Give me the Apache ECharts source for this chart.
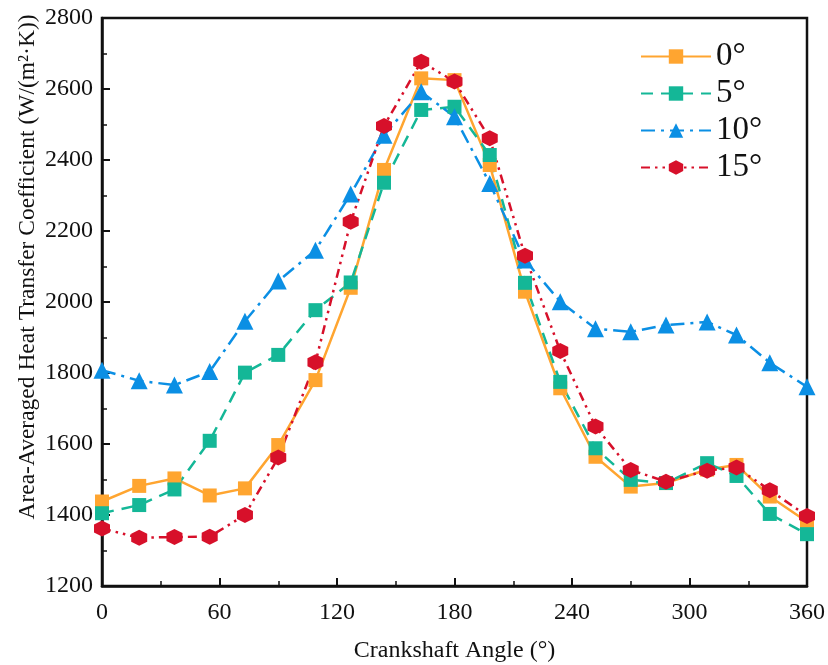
<!DOCTYPE html>
<html>
<head>
<meta charset="utf-8">
<script src="https://cdn.jsdelivr.net/npm/echarts@6/dist/echarts.min.js"></script>
<style>
  html, body { margin: 0; padding: 0; background: #fff; }
  #chart { width: 828px; height: 665px; }
</style>
</head>
<body>
<div id="chart"></div>
<script>
// Crank angle positions (degrees) of the sampled points
const angles = [0, 19, 37, 55, 73, 90, 109, 127, 144, 163, 180, 198, 216, 234, 252, 270, 288, 309, 324, 341, 360];

// Area-averaged heat transfer coefficient, W/(m²·K), for each tilt angle
const h0 = [1438, 1482, 1503, 1455, 1475, 1597, 1780, 2040, 2372, 2630, 2625, 2386, 2029, 1757, 1564, 1480, 1490, 1528, 1541, 1452, 1381];
const h5 = [1405, 1428, 1472, 1609, 1801, 1851, 1977, 2055, 2336, 2541, 2550, 2414, 2054, 1775, 1588, 1499, 1490, 1546, 1510, 1403, 1346];
const h10 = [1808, 1778, 1766, 1804, 1946, 2059, 2146, 2304, 2470, 2592, 2522, 2334, 2118, 2001, 1925, 1916, 1935, 1944, 1907, 1829, 1761];
const h15 = [1362, 1336, 1338, 1339, 1400, 1562, 1830, 2226, 2496, 2677, 2621, 2461, 2130, 1862, 1649, 1527, 1494, 1525, 1534, 1470, 1397];

const seriesNames = ['0°', '5°', '10°', '15°'];
const xTicks = [0, 60, 120, 180, 240, 300, 360];
const yTicks = [1200, 1400, 1600, 1800, 2000, 2200, 2400, 2600, 2800];

const serif = '"Liberation Serif", "DejaVu Serif", serif';
const hexagon = 'path://M0,-10 L8.66,-5 L8.66,5 L0,10 L-8.66,5 L-8.66,-5 Z';

function pairs(ys) { return angles.map((a, i) => [a, ys[i]]); }

function makeSeries(name, ys, color, dash, symbol, size) {
  return {
    name: name,
    type: 'line',
    data: pairs(ys),
    symbol: symbol,
    symbolSize: size,
    showSymbol: true,
    itemStyle: { color: color },
    lineStyle: { color: color, width: 2.5, type: dash },
    emphasis: { disabled: true },
    animation: false
  };
}

const chart = echarts.init(document.getElementById('chart'), null, { renderer: 'canvas' });

chart.setOption({
  backgroundColor: '#fff',
  animation: false,
  grid: {
    left: 102, right: 21, top: 18, bottom: 79,
    outerBoundsMode: 'none', containLabel: false,
    show: true, borderColor: '#111', borderWidth: 2.5, backgroundColor: 'transparent'
  },
  legend: {
    data: seriesNames,
    orient: 'vertical',
    left: 635, top: 35,
    itemWidth: 70, itemHeight: 18, itemGap: 4,
    textStyle: { fontFamily: serif, fontSize: 33, color: '#111' }
  },
  xAxis: {
    type: 'value',
    min: 0, max: 360, interval: 60,
    name: 'Crankshaft Angle (°)',
    nameLocation: 'middle', nameGap: 53, nameMoveOverlap: false,
    nameTextStyle: { fontFamily: serif, fontSize: 24, color: '#111', verticalAlign: 'top' },
    axisLine: { show: true, onZero: false, lineStyle: { color: '#111', width: 2.5 } },
    axisTick: { show: true, inside: true, length: 8, lineStyle: { color: '#111', width: 2 } },
    minorTick: { show: true, splitNumber: 2, length: 5, lineStyle: { color: '#111', width: 1.5 } },
    axisLabel: {
      fontFamily: serif, fontSize: 24, color: '#111', margin: 15,
      customValues: xTicks, formatter: v => String(v)
    },
    splitLine: { show: false }
  },
  yAxis: {
    type: 'value',
    min: 1200, max: 2800, interval: 200,
    name: 'Area-Averaged Heat Transfer Coefficient (W/(m²·K))',
    nameLocation: 'middle', nameGap: 62, nameMoveOverlap: false,
    nameTextStyle: { fontFamily: serif, fontSize: 23.5, color: '#111', padding: [0, 0, 0, 70] },
    axisLine: { show: true, onZero: false, lineStyle: { color: '#111', width: 2.5 } },
    axisTick: { show: true, inside: true, length: 8, lineStyle: { color: '#111', width: 2 } },
    minorTick: { show: true, splitNumber: 2, length: 5, lineStyle: { color: '#111', width: 1.5 } },
    axisLabel: {
      fontFamily: serif, fontSize: 24, color: '#111', margin: 9,
      customValues: yTicks, formatter: v => String(v)
    },
    splitLine: { show: false }
  },
  series: [
    makeSeries(seriesNames[0], h0, '#FFA530', 'solid', 'rect', 14),
    makeSeries(seriesNames[1], h5, '#14B797', [12, 8], 'rect', 14),
    makeSeries(seriesNames[2], h10, '#0B8FE4', [14, 6, 3, 6], 'triangle', 17),
    makeSeries(seriesNames[3], h15, '#D7102A', [9, 5, 2.5, 5, 2.5, 5], hexagon, 16)
  ]
});
</script>
</body>
</html>
